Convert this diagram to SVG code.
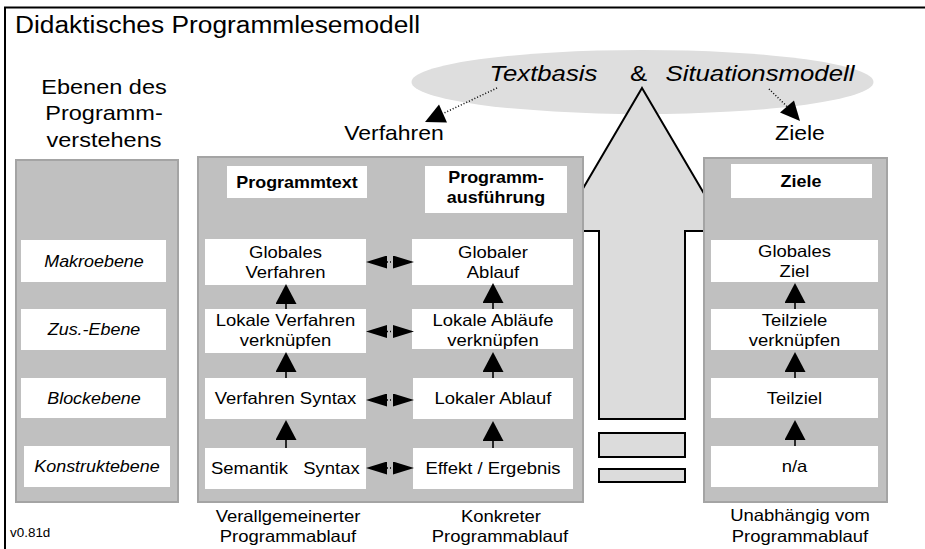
<svg xmlns="http://www.w3.org/2000/svg" width="925" height="549" viewBox="0 0 925 549">
  <style>
    .t { font-family: "Liberation Sans", Arial, Helvetica, sans-serif; fill: #000; text-anchor: middle;
         transform-box: fill-box; transform-origin: center; transform: scaleX(1.12); }
    .l { text-anchor: start; transform-origin: left center; }
    .box { font-size: 16.5px; }
    .hd { font-size: 16px; font-weight: bold; }
    .lvl { font-size: 16px; font-style: italic; }
    .it { font-style: italic; }
    .panel { fill: #c0c0c0; stroke: #a4a4a4; stroke-width: 2; }
    .cell { fill: #fff; }
    .big { fill: #dcdcdc; stroke: #000; stroke-width: 2; stroke-linejoin: miter; }
    .stem { stroke: #000; stroke-width: 1.6; fill: none; }
    .dot { stroke: #000; stroke-width: 1.5; stroke-dasharray: 1 2; fill: none; }
  </style>
  <defs>
    <marker id="up" markerUnits="userSpaceOnUse" viewBox="0 0 20 21" markerWidth="20" markerHeight="21"
            refX="0" refY="10.5" orient="auto">
      <path d="M0,0 L20,10.5 L0,21 Z" fill="#000"/>
    </marker>
    <marker id="side" markerUnits="userSpaceOnUse" viewBox="0 0 21 13" markerWidth="21" markerHeight="13"
            refX="0" refY="6.5" orient="auto-start-reverse">
      <path d="M0,0 L21,6.5 L0,13 Z" fill="#000"/>
    </marker>
  </defs>

  <rect width="925" height="549" fill="#fff"/>

  <!-- outer frame -->
  <path d="M5,549 V7.5 H925" fill="none" stroke="#000" stroke-width="2"/>
  <text class="t l" x="15" y="33" font-size="23.5">Didaktisches Programmlesemodell</text>
  <text class="t l" x="10" y="537" font-size="12">v0.81d</text>

  <!-- model cloud -->
  <g id="modell">
    <ellipse cx="642.5" cy="82" rx="231" ry="32" fill="#dedede"/>
  </g>

  <!-- large upward arrow -->
  <g id="hauptpfeil">
    <polygon class="big" points="642,88 726,231 685,231 685,419 599,419 599,231 558,231"/>
    <rect class="big" x="599" y="433" width="86" height="24"/>
    <rect class="big" x="599" y="469" width="86" height="13"/>
  </g>

  <g id="modell-text">
    <text class="t it" x="543.5" y="81" font-size="23">Textbasis</text>
    <text class="t" x="638.5" y="81" font-size="23">&amp;</text>
    <text class="t it" x="760" y="81" font-size="23">Situationsmodell</text>
  </g>

  <!-- section labels -->
  <g id="label-ebenen">
    <text class="t" x="104" y="94" font-size="21">Ebenen des</text>
    <text class="t" x="104" y="120.5" font-size="21">Programm-</text>
    <text class="t" x="104" y="147" font-size="21">verstehens</text>
  </g>
  <g id="label-verfahren"><text class="t" x="394" y="140" font-size="20.5">Verfahren</text></g>
  <g id="label-ziele"><text class="t" x="800" y="140" font-size="20.5">Ziele</text></g>

  <!-- levels column -->
  <g id="ebenen">
    <rect class="panel" x="16" y="160" width="162" height="342"/>
    <g id="makroebene">
      <rect class="cell" x="21" y="240" width="145" height="42"/>
      <text class="t lvl" x="94" y="267">Makroebene</text>
    </g>
    <g id="zus-ebene">
      <rect class="cell" x="21" y="309" width="145" height="41"/>
      <text class="t lvl" x="94" y="335.5">Zus.-Ebene</text>
    </g>
    <g id="blockebene">
      <rect class="cell" x="21" y="378" width="145" height="40"/>
      <text class="t lvl" x="94" y="404">Blockebene</text>
    </g>
    <g id="konstruktebene">
      <rect class="cell" x="24" y="446" width="146" height="41"/>
      <text class="t lvl" x="97" y="472.5">Konstruktebene</text>
    </g>
  </g>

  <!-- procedures panel -->
  <g id="verfahren">
    <rect class="panel" x="198" y="157" width="385" height="345"/>
    <g id="programmtext">
      <rect class="cell" x="227" y="166" width="140" height="32"/>
      <text class="t hd" x="297" y="188">Programmtext</text>
    </g>
    <g id="programmausfuehrung">
      <rect class="cell" x="425" y="166" width="142" height="47"/>
      <text class="t hd" x="496" y="183">Programm-</text>
      <text class="t hd" x="496" y="203">ausführung</text>
    </g>
    <g id="globales-verfahren">
      <rect class="cell" x="205" y="239" width="161" height="46"/>
      <text class="t box" x="285.5" y="258">Globales</text>
      <text class="t box" x="285.5" y="278">Verfahren</text>
    </g>
    <g id="globaler-ablauf">
      <rect class="cell" x="412" y="239" width="161" height="46"/>
      <text class="t box" x="493" y="258">Globaler</text>
      <text class="t box" x="493" y="278">Ablauf</text>
    </g>
    <g id="lokale-verfahren">
      <rect class="cell" x="205" y="309" width="161" height="44"/>
      <text class="t box" x="285.5" y="326">Lokale Verfahren</text>
      <text class="t box" x="285.5" y="346">verknüpfen</text>
    </g>
    <g id="lokale-ablaeufe">
      <rect class="cell" x="412" y="309" width="161" height="40"/>
      <text class="t box" x="493" y="326">Lokale Abläufe</text>
      <text class="t box" x="493" y="346">verknüpfen</text>
    </g>
    <g id="verfahren-syntax">
      <rect class="cell" x="205" y="378" width="161" height="41"/>
      <text class="t box" x="285.5" y="404.5">Verfahren Syntax</text>
    </g>
    <g id="lokaler-ablauf">
      <rect class="cell" x="413" y="378" width="160" height="41"/>
      <text class="t box" x="493" y="404.5">Lokaler Ablauf</text>
    </g>
    <g id="semantik-syntax">
      <rect class="cell" x="205" y="448" width="161" height="41"/>
      <text class="t box" x="249.5" y="474.5">Semantik</text>
      <text class="t box" x="331.5" y="474.5">Syntax</text>
    </g>
    <g id="effekt-ergebnis">
      <rect class="cell" x="413" y="448" width="160" height="41"/>
      <text class="t box" x="493" y="474.5">Effekt / Ergebnis</text>
    </g>
  </g>

  <!-- goals panel -->
  <g id="ziele">
    <rect class="panel" x="704" y="158" width="183" height="344"/>
    <g id="ziele-kopf">
      <rect class="cell" x="731" y="164" width="141" height="34"/>
      <text class="t hd" x="801" y="187">Ziele</text>
    </g>
    <g id="globales-ziel">
      <rect class="cell" x="711" y="240" width="167" height="42"/>
      <text class="t box" x="794.5" y="257">Globales</text>
      <text class="t box" x="794.5" y="277">Ziel</text>
    </g>
    <g id="teilziele">
      <rect class="cell" x="711" y="309" width="167" height="41"/>
      <text class="t box" x="794.5" y="326">Teilziele</text>
      <text class="t box" x="794.5" y="346">verknüpfen</text>
    </g>
    <g id="teilziel">
      <rect class="cell" x="711" y="378" width="167" height="40"/>
      <text class="t box" x="794.5" y="404.5">Teilziel</text>
    </g>
    <g id="na">
      <rect class="cell" x="711" y="446" width="167" height="41"/>
      <text class="t box" x="794.5" y="472.5">n/a</text>
    </g>
  </g>

  <!-- captions under the panels -->
  <g id="unterschriften">
    <text class="t box" x="288" y="522">Verallgemeinerter</text>
    <text class="t box" x="288" y="542">Programmablauf</text>
    <text class="t box" x="501" y="522">Konkreter</text>
    <text class="t box" x="500" y="542">Programmablauf</text>
    <text class="t box" x="800" y="521">Unabhängig vom</text>
    <text class="t box" x="800" y="542">Programmablauf</text>
  </g>

  <!-- connectors -->
  <g id="verbindungen">
    <!-- upward steps, program text column -->
    <line class="stem" x1="286" y1="309" x2="286" y2="304" marker-end="url(#up)"/>
    <line class="stem" x1="286" y1="378" x2="286" y2="372" marker-end="url(#up)"/>
    <line class="stem" x1="286" y1="448" x2="286" y2="440" marker-end="url(#up)"/>
    <!-- upward steps, execution column -->
    <line class="stem" x1="493" y1="309" x2="493" y2="303" marker-end="url(#up)"/>
    <line class="stem" x1="493" y1="378" x2="493" y2="372" marker-end="url(#up)"/>
    <line class="stem" x1="493" y1="448" x2="493" y2="441" marker-end="url(#up)"/>
    <!-- upward steps, goals column -->
    <line class="stem" x1="795" y1="309" x2="795" y2="303" marker-end="url(#up)"/>
    <line class="stem" x1="795" y1="378" x2="795" y2="372" marker-end="url(#up)"/>
    <line class="stem" x1="795" y1="446" x2="795" y2="440" marker-end="url(#up)"/>
    <!-- text / execution correspondences -->
    <line class="dot" x1="387" y1="262" x2="393" y2="262" marker-start="url(#side)" marker-end="url(#side)"/>
    <line class="dot" x1="387" y1="331.5" x2="393" y2="331.5" marker-start="url(#side)" marker-end="url(#side)"/>
    <line class="dot" x1="387" y1="400" x2="393" y2="400" marker-start="url(#side)" marker-end="url(#side)"/>
    <line class="dot" x1="387" y1="468" x2="393" y2="468" marker-start="url(#side)" marker-end="url(#side)"/>
    <!-- model to Verfahren / Ziele -->
    <line class="dot" x1="497" y1="88" x2="443" y2="113.5"/>
    <polygon points="425,122 447,122.5 439,104.5" fill="#000"/>
    <line class="dot" x1="769" y1="89" x2="787" y2="106.5"/>
    <polygon points="800,121 780,112.5 794,100.5" fill="#000"/>
  </g>
</svg>
